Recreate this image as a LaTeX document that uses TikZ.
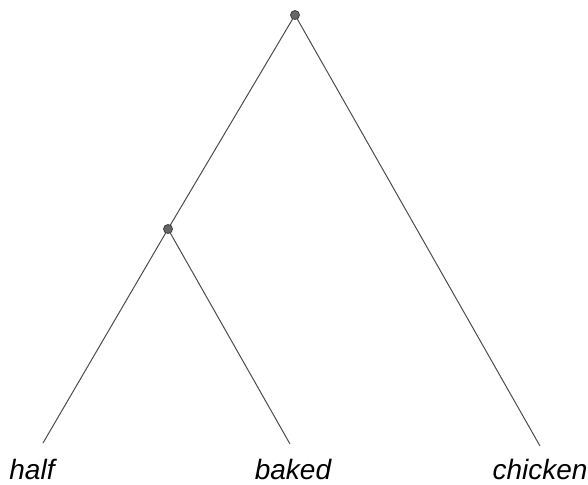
\documentclass[tikz,border=0pt]{standalone}
\usepackage{fontspec}
\setmainfont{Liberation Sans}
\usetikzlibrary{positioning}
\tikzset{
  dot/.style={circle, draw=black!75, fill=black!60, line width=0.4pt, minimum size=4.5pt, inner sep=0pt},
  leaf/.style={anchor=base, inner sep=0pt, font=\fontsize{14}{16}\selectfont\itshape},
  branch/.style={draw=black!70, line width=0.5pt}
}
\begin{document}
\begin{tikzpicture}[x=0.5pt, y=-0.5pt]
  \useasboundingbox (0,0) rectangle (588,485);
  \node[leaf] (half) at (32,480) {half};
  \node[leaf] (baked) at (293,480) {baked};
  \node[leaf] (chicken) at (540,480) {chicken};
  \coordinate (halfend) at (43,443);
  \coordinate (bakedend) at (290,444);
  \coordinate (chickenend) at (540,446);
  \coordinate (rootc) at (295,15);
  \coordinate (midc) at (168,229);
  \draw[branch] (rootc) -- (midc);
  \draw[branch] (rootc) -- (chickenend);
  \draw[branch] (midc) -- (halfend);
  \draw[branch] (midc) -- (bakedend);
  \node[dot] (root) at (rootc) {};
  \node[dot] (mid) at (midc) {};
\end{tikzpicture}
\end{document}
